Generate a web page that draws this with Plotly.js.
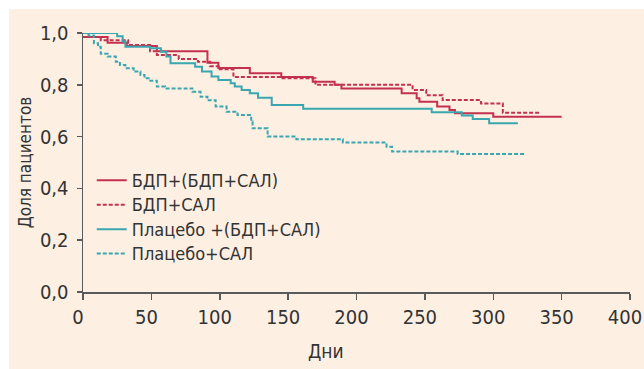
<!DOCTYPE html>
<html>
<head>
<meta charset="utf-8">
<script src="https://cdn.plot.ly/plotly-3.0.1.min.js"></script>
<style>
html,body{margin:0;padding:0;background:#ffffff;}
#chart{position:absolute;left:9px;top:9px;width:635px;height:360px;}
</style>
</head>
<body>
<div id="chart"></div>
<script>
// Series names
const seriesNames = ['БДП+(БДП+САЛ)', 'БДП+САЛ', 'Плацебо +(БДП+САЛ)', 'Плацебо+САЛ'];

// БДП+(БДП+САЛ) — Kaplan–Meier steps
const bdpBdpSalDays = [0, 18, 32, 54, 91, 99, 122, 145, 168, 184, 189, 233, 244, 246, 259, 268, 272, 300, 350];
const bdpBdpSalVals = [0.985, 0.962, 0.95, 0.93, 0.885, 0.865, 0.845, 0.83, 0.812, 0.80, 0.786, 0.767, 0.748, 0.735, 0.716, 0.703, 0.69, 0.677, 0.677];

// БДП+САЛ
const bdpSalDays = [0, 13, 33, 49, 54, 70, 84, 93, 100, 110, 145, 170, 241, 251, 263, 291, 307, 334];
const bdpSalVals = [0.985, 0.972, 0.954, 0.93, 0.915, 0.90, 0.889, 0.872, 0.86, 0.83, 0.825, 0.80, 0.78, 0.76, 0.741, 0.728, 0.692, 0.692];

// Плацебо +(БДП+САЛ)
const plBdpSalDays = [0, 25, 29, 31, 49, 57, 61, 64, 82, 87, 94, 99, 108, 111, 116, 122, 128, 138, 161, 255, 277, 285, 297, 318];
const plBdpSalVals = [1.0, 0.987, 0.967, 0.947, 0.941, 0.928, 0.909, 0.883, 0.87, 0.851, 0.832, 0.819, 0.806, 0.793, 0.78, 0.767, 0.75, 0.722, 0.708, 0.694, 0.681, 0.668, 0.652, 0.652];

// Плацебо+САЛ
const plSalDays = [0, 4, 8, 11, 13, 18, 24, 27, 31, 37, 42, 45, 48, 54, 60, 80, 86, 91, 97, 105, 113, 123, 124, 135, 156, 190, 222, 226, 274, 323];
const plSalVals = [1.0, 0.99, 0.96, 0.947, 0.92, 0.909, 0.889, 0.876, 0.864, 0.851, 0.838, 0.825, 0.816, 0.793, 0.786, 0.773, 0.754, 0.74, 0.716, 0.696, 0.683, 0.658, 0.632, 0.60, 0.59, 0.577, 0.561, 0.542, 0.533, 0.533];

// Axis ticks
const xTicks = [0, 50, 100, 150, 200, 250, 300, 350, 400];
const yTicks = [0, 0.2, 0.4, 0.6, 0.8, 1.0];

const RED = '#c4304f';
const TEAL = '#3aa6b0';
const FONT = "'DejaVu Sans Condensed', 'Liberation Sans Narrow', 'Arial Narrow', 'Liberation Sans', sans-serif";

function label(t) { return '<span style="font-size:18px">' + t + '</span>'; }

const traces = [
  {x: bdpBdpSalDays, y: bdpBdpSalVals, name: label(seriesNames[0]), mode: 'lines',
   line: {shape: 'hv', color: RED, width: 2}},
  {x: bdpSalDays, y: bdpSalVals, name: label(seriesNames[1]), mode: 'lines',
   line: {shape: 'hv', color: RED, width: 2, dash: '4px,2px'}},
  {x: plBdpSalDays, y: plBdpSalVals, name: label(seriesNames[2]), mode: 'lines',
   line: {shape: 'hv', color: TEAL, width: 2}},
  {x: plSalDays, y: plSalVals, name: label(seriesNames[3]), mode: 'lines',
   line: {shape: 'hv', color: TEAL, width: 2, dash: '4px,2px'}}
];

const layout = {
  width: 635, height: 360,
  margin: {l: 74, r: 14, t: 24, b: 77, pad: 0},
  paper_bgcolor: '#fdf0e3',
  plot_bgcolor: '#fdf0e3',
  separators: ', ',
  font: {family: FONT, color: '#333333', size: 20},
  showlegend: true,
  legend: {
    x: 0.016, xanchor: 'left', y: 0.498, yanchor: 'top',
    bgcolor: 'rgba(0,0,0,0)', borderwidth: 0,
    font: {family: FONT, size: 16.5, color: '#333333'},
    itemwidth: 30, tracegroupgap: 0
  },
  xaxis: {
    range: [0, 400], tickvals: xTicks, ticktext: xTicks.map(String),
    showgrid: false, zeroline: false, showline: true,
    linecolor: '#5a5a5a', linewidth: 1.5,
    ticks: 'outside', ticklen: 6, tickwidth: 1.5, tickcolor: '#5a5a5a',
    tickfont: {family: FONT, size: 20, color: '#333333'},
    ticklabelshift: -5,
    ticklabeloverflow: 'allow',
    fixedrange: true
  },
  yaxis: {
    range: [0, 1], tickvals: yTicks, tickformat: '.1f',
    showgrid: false, zeroline: false, showline: true,
    linecolor: '#5a5a5a', linewidth: 1.5,
    ticks: 'outside', ticklen: 5, tickwidth: 1.5, tickcolor: '#5a5a5a',
    tickfont: {family: FONT, size: 20, color: '#333333'},
    ticklabelstandoff: 4,
    title: {text: 'Доля пациентов', font: {family: FONT, size: 17, color: '#333333'}, standoff: 4},
    automargin: false,
    fixedrange: true
  },
  annotations: [{
    text: 'Дни', xref: 'paper', yref: 'paper', x: 0.444, y: -0.228,
    xanchor: 'center', yanchor: 'middle', showarrow: false,
    font: {family: FONT, size: 19, color: '#333333'}
  }]
};

Plotly.newPlot('chart', traces, layout, {displayModeBar: false, staticPlot: true});
</script>
</body>
</html>
